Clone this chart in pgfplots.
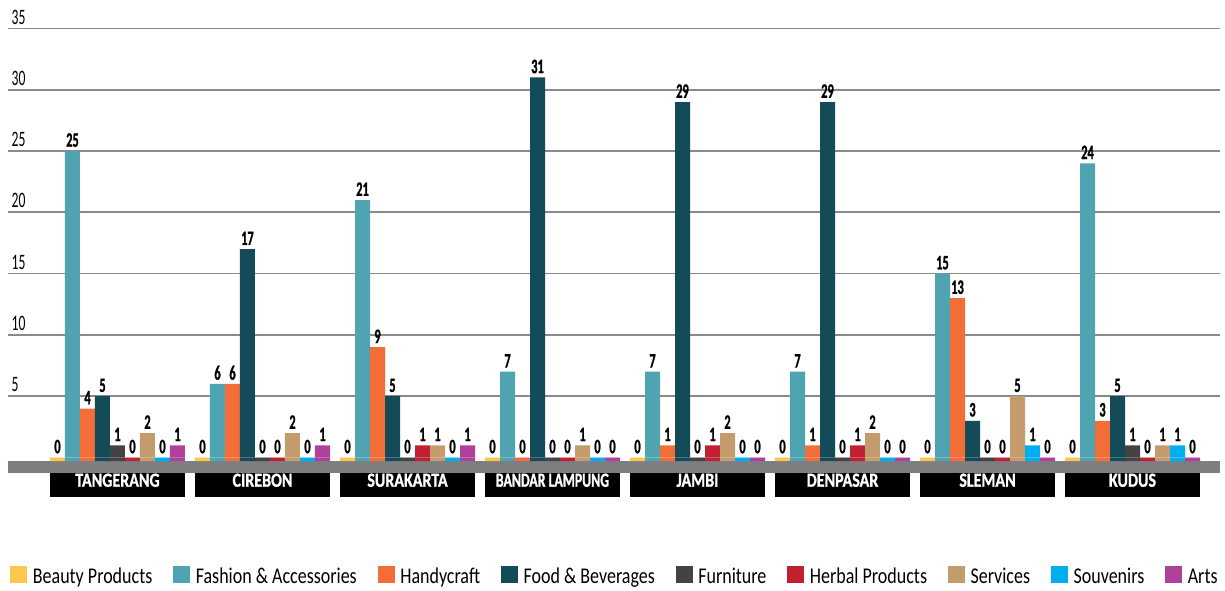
\documentclass[border=0pt]{standalone}
\usepackage{fontspec}
\setmainfont{Carlito}[FakeStretch=0.80]
\newfontfamily\tickfont{Carlito}[FakeStretch=0.62]
\newfontfamily\valfont{Carlito Bold}[FakeStretch=0.6, FakeBold=1]
\newfontfamily\cityfont{Carlito Bold}[FakeStretch=0.8, FakeBold=1]
\newfontfamily\cityfontx{Carlito Bold}[FakeStretch=0.69, FakeBold=1]
\usepackage{pgfplots}
\usepackage{pgfplotstable}
\pgfplotsset{compat=1.18}

\definecolor{cBeauty}{HTML}{FDC64E}
\definecolor{cFashion}{HTML}{50A4B2}
\definecolor{cHandy}{HTML}{F26D37}
\definecolor{cFood}{HTML}{134B59}
\definecolor{cFurn}{HTML}{434343}
\definecolor{cHerbal}{HTML}{C0202F}
\definecolor{cServ}{HTML}{C39B6D}
\definecolor{cSouv}{HTML}{00AEEF}
\definecolor{cArts}{HTML}{B0419A}
\definecolor{cGrid}{HTML}{8A8A8A}
\definecolor{cBand}{HTML}{7E7E82}

% businesses per city and sector
\pgfplotstableread{
g beauty fashion handy food furn herbal serv souv arts
0 0 25 4 5 1 0 2 0 1
1 0 6 6 17 0 0 2 0 1
2 0 21 9 5 0 1 1 0 1
3 0 7 0 31 0 0 1 0 0
4 0 7 1 29 0 1 2 0 0
5 0 7 1 29 0 1 2 0 0
6 0 15 13 3 0 0 5 1 0
7 0 24 3 5 1 0 1 1 0
}\sales

% #1 column, #2 colour, #3 bar shift
\newcommand\sectorbars[3]{%
  \addplot[ybar, bar width=15pt, bar shift=#3, fill=#2, draw=none, forget plot]
    table[x=g, y expr=-0.29]{\sales};
  \addplot[ybar, bar width=15pt, bar shift=#3, fill=#2, draw=none,
    nodes near coords, every node near coord/.append style={xshift=#3}]
    table[x=g, y=#1]{\sales};
}

\begin{document}
\begin{tikzpicture}
\begin{axis}[
  x=145pt, y=12.26pt,
  xmin=-0.755, xmax=7.603,
  ymin=-1.264, ymax=35,
  clip=false,
  axis line style={draw=none},
  tick style={draw=none},
  major tick length=0pt,
  ytick={5,10,...,35},
  ymajorgrids,
  grid style={cGrid, line width=1.7pt},
  yticklabel style={anchor=south west, inner sep=0pt, xshift=3.5pt, yshift=4pt,
    font=\tickfont\fontsize{22}{22}\selectfont},
  xtick={0,...,7},
  xticklabels={TANGERANG,CIREBON,SURAKARTA,{\cityfontx BANDAR LAMPUNG},JAMBI,DENPASAR,SLEMAN,KUDUS},
  xticklabel style={anchor=north, inner sep=0pt, yshift=10pt, fill=black, text=white,
    minimum width=135pt, minimum height=34pt, text height=13pt, text depth=0pt,
    font=\cityfont\fontsize{20}{20}\selectfont},
  /pgf/number format/assume math mode=true,
  nodes near coords style={font=\valfont\fontsize{20.5}{20.5}\selectfont, text=black,
    anchor=south, inner sep=0pt, yshift=4pt},
  legend columns=-1,
  legend image code/.code={\fill[#1] (0pt,-5.5pt) rectangle (17pt,11.5pt);},
  legend style={at={(0.5,-0.209)}, anchor=north, draw=none, fill=none,
    font=\fontsize{22.5}{22.5}\selectfont, inner sep=0pt,
    nodes={inner sep=0pt, text height=16pt, text depth=5pt},
    /tikz/every odd column/.append style={column sep=5.5pt},
    /tikz/every even column/.append style={column sep=21pt}},
]
  % baseline band under the bars
  \fill[cBand] (axis cs:-0.755,-0.29) rectangle (axis cs:7.603,-1.264);

  \sectorbars{beauty}{cBeauty}{-60pt}
  \sectorbars{fashion}{cFashion}{-45pt}
  \sectorbars{handy}{cHandy}{-30pt}
  \sectorbars{food}{cFood}{-15pt}
  \sectorbars{furn}{cFurn}{0pt}
  \sectorbars{herbal}{cHerbal}{15pt}
  \sectorbars{serv}{cServ}{30pt}
  \sectorbars{souv}{cSouv}{45pt}
  \sectorbars{arts}{cArts}{60pt}

  \legend{Beauty Products, Fashion \& Accessories, Handycraft, Food \& Beverages,
    Furniture, Herbal Products, Services, Souvenirs, Arts}

  \coordinate (bbA) at (axis cs:-0.8103,-10.81);
  \coordinate (bbB) at (axis cs:7.6379,37.32);
\end{axis}
\pgfresetboundingbox
\path[use as bounding box] (bbA) rectangle (bbB);
\end{tikzpicture}
\end{document}
